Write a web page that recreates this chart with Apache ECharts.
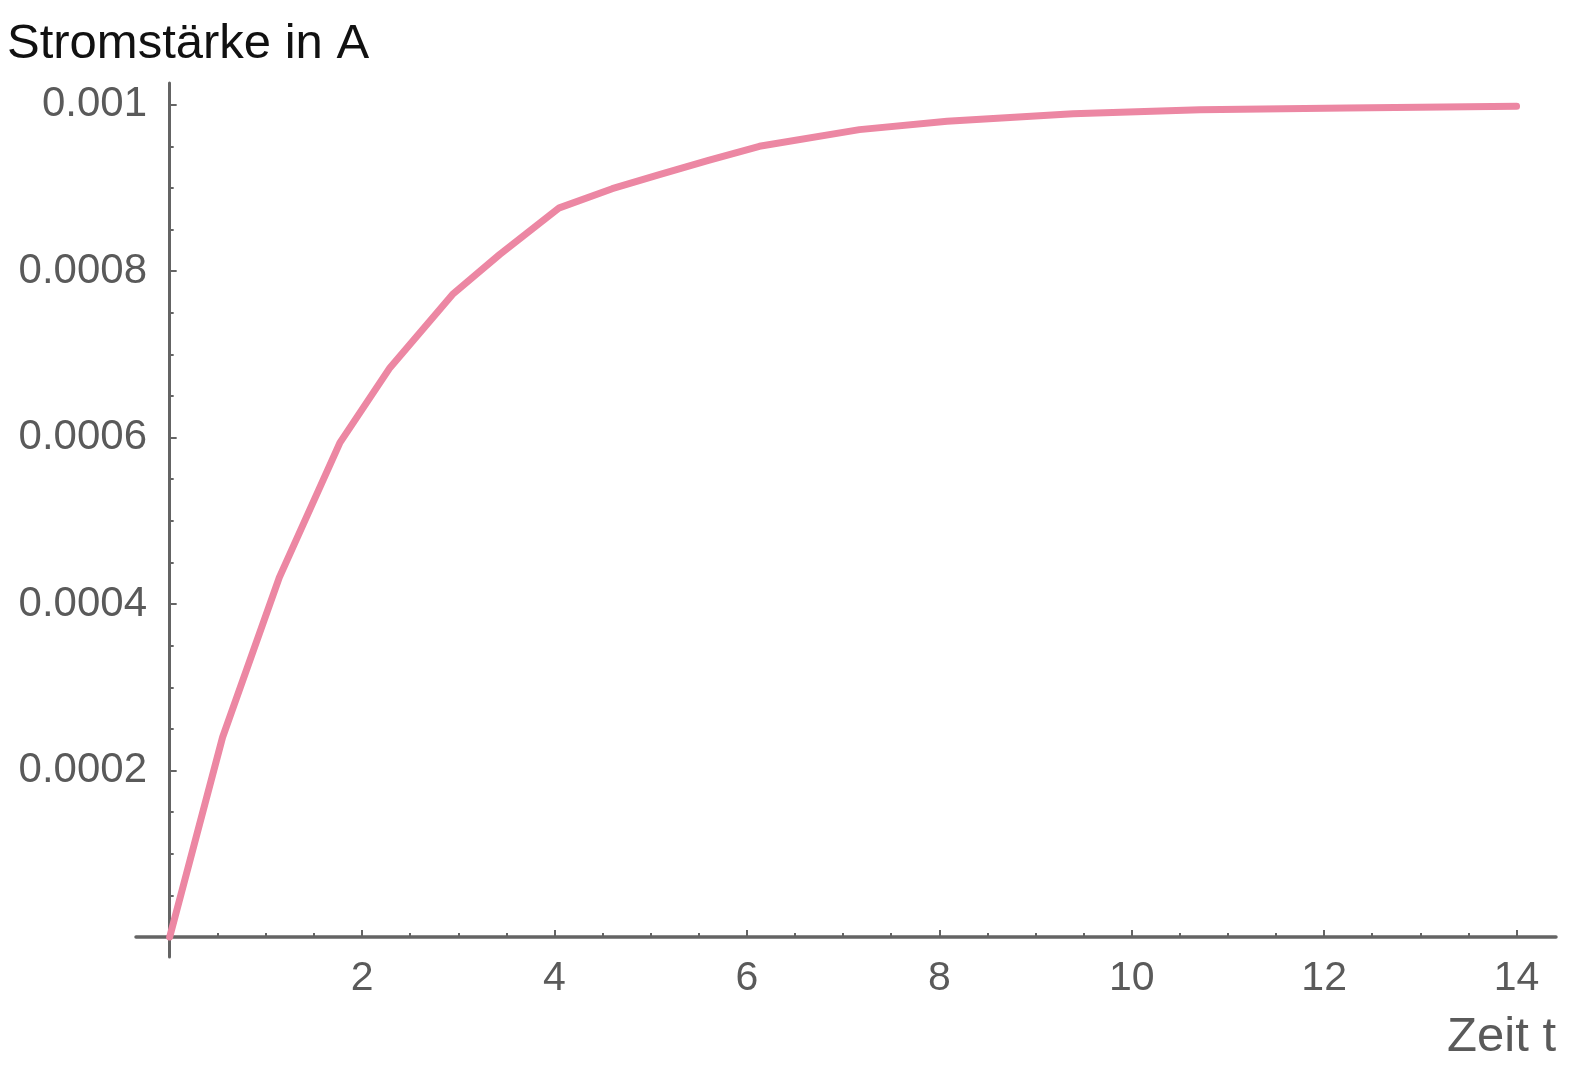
<!DOCTYPE html>
<html>
<head>
<meta charset="utf-8">
<script src="https://cdn.jsdelivr.net/npm/echarts@6/dist/echarts.min.js"></script>
<style>
html,body{margin:0;padding:0;background:#fff;}
#chart{width:1582px;height:1069px;}
</style>
</head>
<body>
<div id="chart"></div>
<script>
// Data: time t and current I (A)
var timeValues = [0, 0.55, 1.14, 1.77, 2.29, 2.94, 3.43, 4.05, 4.6, 5.09, 5.6, 6.13, 7.17, 8.08, 9.39, 10.71, 12.23, 14];
var currentValues = [0, 0.000240, 0.000432, 0.000594, 0.000684, 0.000772, 0.000820, 0.000876, 0.000899, 0.000916, 0.000933, 0.000950, 0.000970, 0.000980, 0.000989, 0.000994, 0.000996, 0.000998];

// Tick labels
var xTickLabels = [2, 4, 6, 8, 10, 12, 14];
var yTickLabels = [0.0002, 0.0004, 0.0006, 0.0008, 0.001];

var xMinorTicks = [];
for (var i = 1; i < 28; i++) { if (i % 4 !== 0) xMinorTicks.push(i * 0.5); }
var yMinorTicks = [];
for (var j = 1; j < 20; j++) { if (j % 4 !== 0) yMinorTicks.push(+(j * 0.00005).toFixed(5)); }

var seriesData = timeValues.map(function (t, k) { return [t, currentValues[k]]; });

var axisColor = '#646464';
var labelColor = '#5a5a5a';
var fontFam = '"Liberation Sans", Arial, Helvetica, sans-serif';

var xMin = -0.35, xMax = 14.41, yMin = -0.000024, yMax = 0.001026;

var chart = echarts.init(document.getElementById('chart'));
chart.setOption({
  animation: false,
  backgroundColor: '#ffffff',
  title: [
    { text: 'Stromstärke in A', left: 2, top: 15,
      textStyle: { fontFamily: fontFam, fontSize: 49, fontWeight: 'normal', color: '#111111' } },
    { text: 'Zeit t', right: 21, top: 1008,
      textStyle: { fontFamily: fontFam, fontSize: 49, fontWeight: 'normal', color: labelColor } }
  ],
  grid: { left: 136, right: 26, top: 83, bottom: 112, containLabel: false, outerBoundsMode: 'none' },
  xAxis: [
    {
      type: 'value', min: xMin, max: xMax, position: 'bottom',
      axisLine: { show: true, onZero: true, lineStyle: { color: axisColor, width: 3.5 } },
      axisTick: { show: true, inside: true, length: 7, customValues: xTickLabels, lineStyle: { color: axisColor, width: 2 } },
      axisLabel: { show: true, customValues: xTickLabels, margin: 1, color: labelColor, fontSize: 41, fontFamily: fontFam },
      splitLine: { show: false }
    },
    {
      type: 'value', min: xMin, max: xMax, position: 'bottom',
      axisLine: { show: false, onZero: true },
      axisTick: { show: true, inside: true, length: 4, customValues: xMinorTicks, lineStyle: { color: axisColor, width: 2 } },
      axisLabel: { show: false },
      splitLine: { show: false }
    }
  ],
  yAxis: [
    {
      type: 'value', min: yMin, max: yMax, position: 'left',
      axisLine: { show: true, onZero: true, lineStyle: { color: axisColor, width: 3 } },
      axisTick: { show: true, inside: true, length: 7, customValues: yTickLabels, lineStyle: { color: axisColor, width: 2 } },
      axisLabel: { show: true, customValues: yTickLabels, margin: -11, color: labelColor, fontSize: 42, fontFamily: fontFam,
        formatter: function (v) { return String(+v.toFixed(4)); } },
      splitLine: { show: false }
    },
    {
      type: 'value', min: yMin, max: yMax, position: 'left',
      axisLine: { show: false, onZero: true },
      axisTick: { show: true, inside: true, length: 4, customValues: yMinorTicks, lineStyle: { color: axisColor, width: 2 } },
      axisLabel: { show: false },
      splitLine: { show: false }
    }
  ],
  series: [
    {
      type: 'line', xAxisIndex: 0, yAxisIndex: 0,
      data: seriesData, showSymbol: false, symbol: 'none', smooth: false,
      lineStyle: { color: '#ec87a3', width: 7, cap: 'round', join: 'round' }
    }
  ]
});
</script>
</body>
</html>
